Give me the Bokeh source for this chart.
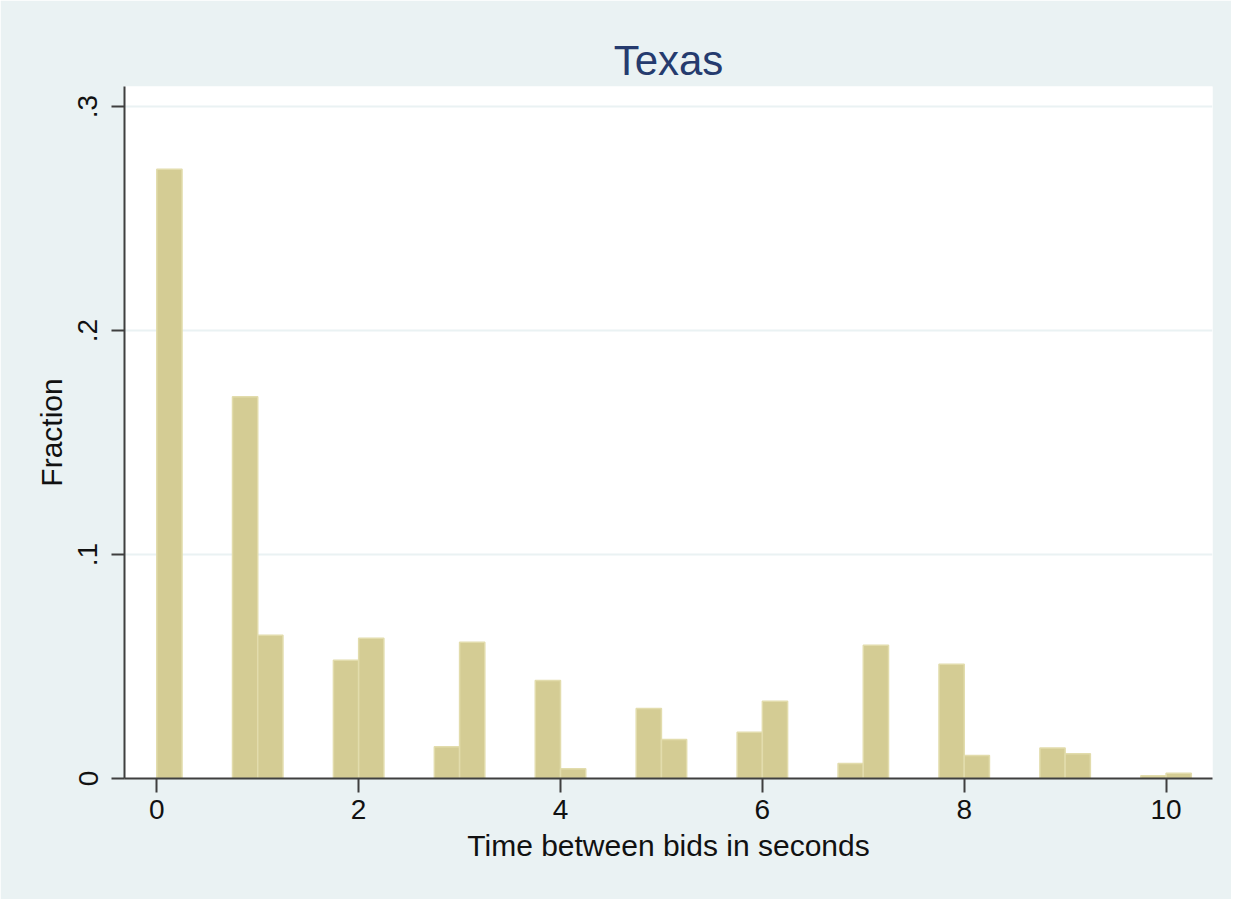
from bokeh.plotting import figure
from bokeh.models import FixedTicker, CustomJSTickFormatter, Range1d, ColumnDataSource
from bokeh.embed import file_html
from bokeh.resources import INLINE

# Data: histogram bins (left edge, seconds) and fraction in each bin
bin_width = 0.25
bin_left = [0.0, 0.75, 1.0, 1.75, 2.0, 2.75, 3.0, 3.75, 4.0, 4.75, 5.0,
            5.75, 6.0, 6.75, 7.0, 7.75, 8.0, 8.75, 9.0, 9.75, 10.0]
fraction = [0.272, 0.1705, 0.064, 0.0528, 0.0626, 0.0142, 0.0608, 0.0438, 0.0044, 0.0313, 0.0174,
            0.0206, 0.0345, 0.0067, 0.0595, 0.051, 0.0103, 0.0136, 0.011, 0.0012, 0.0024]
x_ticks = [0, 2, 4, 6, 8, 10]
y_ticks = [0, 0.1, 0.2, 0.3]

title_text = "Texas"
x_label = "Time between bids in seconds"
y_label = "Fraction"

BG = "#EAF2F3"
FONT = "Liberation Sans"

src = ColumnDataSource(dict(
    left=bin_left,
    right=[b + bin_width for b in bin_left],
    top=fraction,
    bottom=[0.0] * len(bin_left),
))

p = figure(width=1231, height=899, output_backend="svg", toolbar_location=None,
           x_range=Range1d(-0.32, 10.46), y_range=Range1d(0, 0.309),
           min_border_left=124, min_border_right=19, min_border_top=86, min_border_bottom=121,
           title=title_text)

p.background_fill_color = "white"
p.border_fill_color = BG
p.outline_line_color = None

p.title.align = "center"
p.title.text_font = FONT
p.title.text_font_size = "42px"
p.title.text_font_style = "normal"
p.title.text_color = "#253B6E"
p.title.standoff = 6

p.quad(left="left", right="right", top="top", bottom="bottom", source=src,
       fill_color="#D4CC94", line_color="#E2DCAC", line_width=1.5)

# grid
p.xgrid.visible = False
p.ygrid.ticker = FixedTicker(ticks=y_ticks)
p.ygrid.grid_line_color = BG
p.ygrid.grid_line_width = 2

# x axis
xa = p.xaxis[0]
xa.ticker = FixedTicker(ticks=x_ticks)
xa.axis_label = x_label
xa.axis_label_text_font = FONT
xa.axis_label_text_font_size = "30px"
xa.axis_label_text_font_style = "normal"
xa.axis_label_text_color = "#111111"
xa.axis_label_standoff = 7
xa.major_label_text_font = FONT
xa.major_label_text_font_size = "28px"
xa.major_label_text_color = "#111111"
xa.major_label_standoff = 7
xa.axis_line_color = "#3F3F3F"
xa.axis_line_width = 2
xa.major_tick_line_color = "#3F3F3F"
xa.major_tick_line_width = 2
xa.major_tick_out = 14
xa.major_tick_in = 0
xa.minor_tick_line_color = None

# y axis
ya = p.yaxis[0]
ya.ticker = FixedTicker(ticks=y_ticks)
ya.formatter = CustomJSTickFormatter(code="""
    if (tick == 0) { return "0"; }
    return String(tick).replace(/^0/, "");
""")
ya.major_label_orientation = "vertical"
ya.axis_label = y_label
ya.axis_label_text_font = FONT
ya.axis_label_text_font_size = "30px"
ya.axis_label_text_font_style = "normal"
ya.axis_label_text_color = "#111111"
ya.axis_label_standoff = 8
ya.major_label_text_font = FONT
ya.major_label_text_font_size = "28px"
ya.major_label_text_color = "#111111"
ya.major_label_standoff = 14
ya.axis_line_color = "#3F3F3F"
ya.axis_line_width = 2
ya.major_tick_line_color = "#3F3F3F"
ya.major_tick_line_width = 2
ya.major_tick_out = 13
ya.major_tick_in = 0
ya.minor_tick_line_color = None

html = file_html(p, INLINE, title="Texas")
html = html.replace("<body>", '<body style="background-color:#000000;">', 1)
open("out.html", "w").write(html)
